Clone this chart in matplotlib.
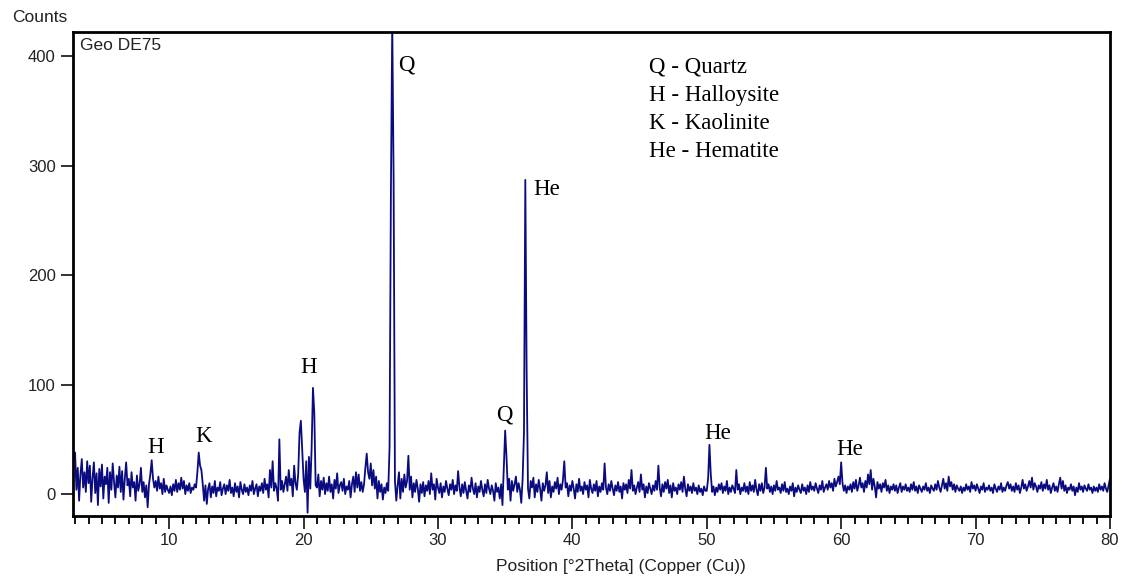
import matplotlib
matplotlib.use("Agg")
import matplotlib.pyplot as plt
import numpy as np

# scan start / step in degrees 2theta
start = 2.9
step = 0.1

# counts, one row per degree (2.9, then 3.0-3.9, 4.0-4.9, ... , 80.0)
counts = [32,
    38, 4, 24, -6, 18, 32, 6, 20, 2, 30,
    10, 26, -7, 15, 29, 1, 19, -10, 23, 7,
    27, -4, 16, 9, 24, -8, 20, 4, 28, 11,
    -3, 17, 6, 25, 2, 21, -5, 14, 29, 8,
    14, -2, 20, 6, 11, -6, 17, 3, 9, 24,
    2, 11, -3, 8, -12, 9, 18, 31, 14, 6,
    12, 3, 16, 5, 10, 0, 14, 2, 8, 4,
    1, 7, -1, 9, 3, 13, 2, 10, 4, 15,
    5, 12, 0, 8, 3, 10, 1, 6, 4, 9,
    6, 20, 38, 26, 22, 9, -6, 8, -9, 5,
    10, -3, 7, 1, 12, -2, 6, 3, 11, -1,
    5, 9, 0, 8, 3, 13, 1, 6, -2, 10,
    2, 7, -3, 11, 4, 0, 9, 2, 6, -1,
    8, 3, 12, 0, 5, 9, -2, 7, 3, 10,
    1, 14, 4, 9, -3, 22, 6, 30, 3, 10,
    5, -6, 50, 4, 12, 2, 9, 16, 3, 22,
    8, 14, -2, 26, 10, 4, 18, 56, 67, 40,
    14, 2, 30, -17, 34, 5, 42, 97, 74, 8,
    6, 18, -2, 12, 4, 15, 0, 10, 3, 16,
    2, 9, -4, 13, 5, 19, 1, 8, 11, 3,
    14, 0, 7, 4, 12, -3, 9, 16, 2, 20,
    6, 18, 3, 11, 2, 9, 24, 37, 20, 14,
    28, 8, 22, 5, 16, -4, 12, 2, 9, -5,
    6, 1, 10, 3, 43, 277, 430, 289, 12, -6,
    8, 20, -4, 14, 2, 18, 6, 12, 35, 4,
    16, -3, 10, 2, 13, 5, -7, 9, 1, 11,
    -2, 8, 3, 12, 0, 19, 4, 9, -5, 14,
    6, 1, 10, -3, 7, 2, 12, 5, -1, 9,
    4, 13, 0, 8, 3, 21, 6, -2, 9, 1,
    11, 3, -4, 8, 2, 15, 5, 0, 10, -3,
    7, 2, 12, 4, -2, 9, 1, 13, 5, 0,
    8, 3, -6, 10, 2, 6, -4, 9, -10, 24,
    58, 34, 4, 14, -6, 12, 3, 9, 16, 2,
    10, 4, -8, 14, 56, 287, 110, 5, -4, 12,
    6, 15, -3, 9, 2, 13, 5, -6, 10, 3,
    8, 20, 1, 12, -3, 7, 2, 11, 5, 15,
    0, 9, 4, 13, 30, 6, 10, -2, 8, 3,
    12, 5, -4, 9, 2, 14, 3, 7, 0, 11,
    4, 8, -3, 13, 5, 1, 9, 3, 12, -2,
    7, 2, 10, 4, 28, 6, 0, 9, 3, 12,
    5, -1, 8, 3, 11, 2, 7, -4, 10, 4,
    9, 1, 13, 5, 22, 3, 8, 0, 6, 11,
    2, 18, 4, 9, -3, 7, 1, 10, 5, 0,
    8, 3, 12, 4, 26, 6, -2, 9, 2, 11,
    5, 13, 1, 8, -3, 10, 3, 6, 0, 9,
    4, 11, 2, 16, 5, -2, 9, 3, 7, 1,
    10, 3, 6, 0, 8, 2, 5, -1, 7, 3,
    3, 14, 45, 18, 2, 7, -1, 6, 2, 9,
    4, 10, 1, 7, 3, 12, 0, 6, 2, 8,
    5, 1, 22, 4, 9, 0, 6, 3, 10, 2,
    7, 0, 11, 3, 8, 2, 13, 4, -1, 9,
    3, 10, 1, 6, 24, 5, 9, 2, 7, 0,
    8, 3, 12, 4, 6, 1, 9, 3, 11, 2,
    5, 0, 7, 3, 10, -2, 6, 2, 8, 4,
    1, 9, 3, 6, 0, 8, 2, 11, 4, 7,
    3, 10, 5, 1, 8, 4, 12, 2, 6, 9,
    4, 12, 6, 10, 3, 14, 7, 11, 16, 9,
    29, 10, 3, 8, 1, 7, 4, 9, 2, 11,
    5, 13, 3, 8, 15, 6, 10, 2, 12, 6,
    18, 9, 22, 4, 14, 7, -3, 11, 5, 9,
    2, 10, 6, 13, 3, 8, 1, 7, 4, 9,
    3, 8, 1, 6, 10, 2, 7, 4, 9, 3,
    6, 2, 9, 4, 11, 3, 7, 1, 8, 5,
    2, 7, 4, 10, 3, 6, 1, 8, 5, 3,
    9, 4, 12, 6, 2, 8, 14, 5, 10, 3,
    16, 7, 11, 4, 9, 2, 8, 5, 3, 7,
    1, 6, 3, 9, 4, 7, 2, 11, 5, 8,
    3, 9, 5, 1, 7, 4, 10, 2, 6, 4,
    8, 3, 6, 1, 9, 5, 2, 7, 4, 10,
    2, 6, 3, 8, 11, 5, 9, 3, 7, 2,
    10, 4, 8, 1, 6, 13, 5, 9, 3, 7,
    12, 6, 15, 4, 10, 7, 2, 8, 5, 11,
    3, 9, 5, 13, 4, 8, 1, 6, 10, 3,
    7, 2, 9, 15, 5, 12, 3, 8, 1, 6,
    4, 9, 3, 7, -1, 6, 2, 10, 4, 7,
    2, 8, 5, 3, 9, 4, 6, 1, 7, 3,
    6, 2, 9, 4, 7, 3, 10, 5, 2, 8,
    14]

# phase labels over the peaks
peak_text = ["H", "K", "H", "Q", "Q", "He", "He", "He"]
peak_x = [8.96, 12.53, 20.35, 27.65, 34.94, 38.07, 50.8, 60.63]
peak_y = [43, 53, 116, 392, 72, 278, 55, 41]

legend_lines = ["Q - Quartz", "H - Halloysite", "K - Kaolinite", "He - Hematite"]

x_ticks = [10, 20, 30, 40, 50, 60, 70, 80]
y_ticks = [0, 100, 200, 300, 400]

theta = np.round(start + step * np.arange(len(counts)), 2)

fig = plt.figure(figsize=(11.24, 5.77), dpi=100)
ax = fig.add_axes([0.065, 0.1057, 0.9225, 0.8388])

ax.plot(theta, counts, color="#0b0b80", lw=1.3)

ax.set_xlim(2.85, 80)
ax.set_ylim(-20, 422)
ax.set_xticks(x_ticks)
ax.set_xticks(np.arange(3, 80), minor=True)
ax.set_yticks(y_ticks)

for s in ax.spines.values():
    s.set_linewidth(2)

ax.tick_params(axis="both", which="major", direction="out", length=9, width=1.3,
               labelsize=12, colors="#222222")
ax.tick_params(axis="x", which="minor", direction="out", length=5.5, width=1.3)
for lab in ax.get_xticklabels() + ax.get_yticklabels():
    lab.set_family("Liberation Sans")

ax.set_xlabel("Position [°2Theta] (Copper (Cu))", family="Liberation Sans",
              fontsize=12.5, color="#222222", va="center")
ax.xaxis.set_label_coords(0.528, -0.105)
fig.text(0.011, 0.969, "Counts", family="Liberation Sans", fontsize=12.5,
         va="center", ha="left", color="#222222")
ax.text(0.007, 0.973, "Geo DE75", transform=ax.transAxes, family="Liberation Sans",
        fontsize=12.5, va="center", ha="left", color="#222222")

for t, px, py in zip(peak_text, peak_x, peak_y):
    ax.text(px, py, t, family="Liberation Serif", fontsize=16.5, ha="center", va="center")

for i, line in enumerate(legend_lines):
    ax.text(45.67, 390 - i * 25.6, line, family="Liberation Serif", fontsize=16.5,
            ha="left", va="center")

fig.savefig("out.png", dpi=100)
